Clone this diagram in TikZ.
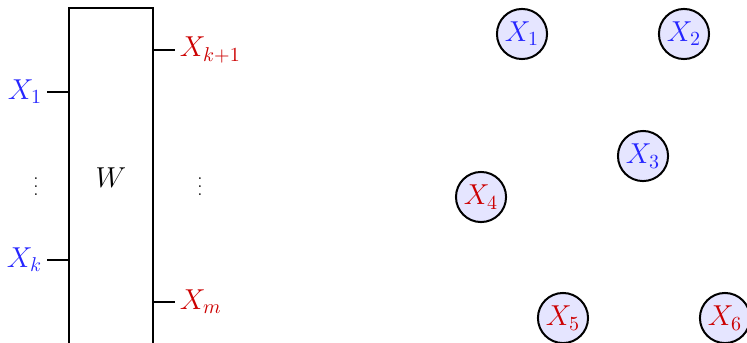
\documentclass[tikz,border=0pt]{standalone}
\usepackage{amsmath,amssymb}
\usepackage{xcolor}
\usepackage{tikz}
\usetikzlibrary{positioning}

\colorlet{inblue}{blue!85!white}
\colorlet{outred}{red!80!black}

\begin{document}
\begin{tikzpicture}[every node/.style={font=\Large},
  gate/.style={draw,line width=1.3pt,minimum width=14.76mm,minimum height=59.7mm,inner sep=0pt},
  pin/.style={line width=1.3pt},
  var/.style={draw,line width=1pt,circle,fill=blue!10,minimum size=8.8mm,inner sep=0pt},
  dots/.style={font=\footnotesize}]
  \useasboundingbox (0,0) rectangle (13.124,-6.026);
  % the tensor W with its legs
  \node[gate] (W) at (1.95,-3.127) {$W$};
  \coordinate (a1) at (W.west |- 0,-1.616);
  \coordinate (ak) at (W.west |- 0,-4.567);
  \coordinate (b1) at (W.east |- 0,-0.878);
  \coordinate (bm) at (W.east |- 0,-5.305);
  \coordinate[left=3.7mm of a1] (a1e);
  \coordinate[left=3.7mm of ak] (ake);
  \coordinate[right=3.7mm of b1] (b1e);
  \coordinate[right=3.7mm of bm] (bme);
  \draw[pin] (a1)--(a1e); \draw[pin] (ak)--(ake);
  \draw[pin] (b1)--(b1e); \draw[pin] (bm)--(bme);
  \node[anchor=east,text=inblue,inner sep=2pt] (la1) at (a1e) {$X_1$};
  \node[anchor=east,text=inblue,inner sep=2pt] (lak) at (ake) {$X_k$};
  \node[anchor=west,text=outred,inner sep=2pt] (lb1) at (b1e) {$X_{k+1}$};
  \node[anchor=west,text=outred,inner sep=2pt] (lbm) at (bme) {$X_m$};
  \node[dots] (dl) at (0.633,-3.17) {$\vdots$};
  \node[dots] (dr) at (3.514,-3.17) {$\vdots$};
  % the variables
  \node[var,text=inblue] (x1) at (9.171,-0.597) {$X_1$};
  \node[var,text=inblue] (x2) at (12.017,-0.597) {$X_2$};
  \node[var,text=inblue] (x3) at (11.297,-2.741) {$X_3$};
  \node[var,text=outred] (x4) at (8.451,-3.461) {$X_4$};
  \node[var,text=outred] (x5) at (9.891,-5.587) {$X_5$};
  \node[var,text=outred] (x6) at (12.737,-5.587) {$X_6$};
\end{tikzpicture}
\end{document}
